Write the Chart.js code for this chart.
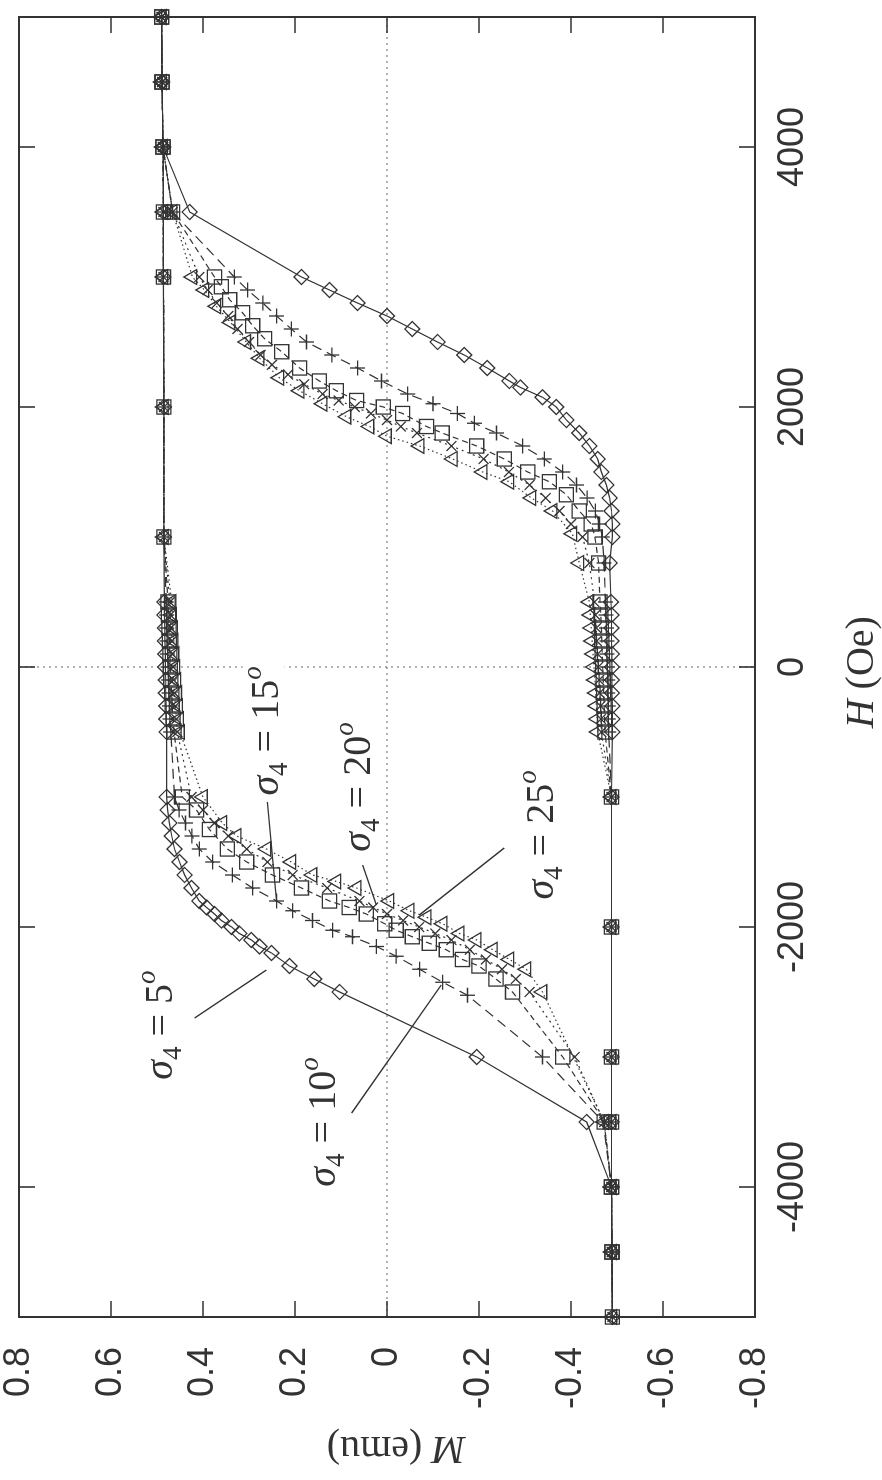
<!DOCTYPE html>
<html><head><meta charset="utf-8">
<script src="https://cdn.jsdelivr.net/npm/chart.js@4.4.0/dist/chart.umd.min.js"></script>
<style>
html,body{margin:0;padding:0;background:#fff;overflow:hidden;width:882px;height:1480px;}
#wrap{position:absolute;left:0;top:0;width:1480px;height:882px;transform-origin:0 0;transform:translate(0px,1480px) rotate(-90deg);}
canvas{display:block;}
</style></head><body>
<div id="wrap"><canvas id="c" width="1480" height="882"></canvas></div>
<script>
// ---------- axis ticks ----------
const hTicks = [-4000, -2000, 0, 2000, 4000];
const hTickLabels = ['-4000', '-2000', '0', '2000', '4000'];
const mTicks = [-0.8, -0.6, -0.4, -0.2, 0, 0.2, 0.4, 0.6, 0.8];
const mTickLabels = ['-0.8', '-0.6', '-0.4', '-0.2', '0', '0.2', '0.4', '0.6', '0.8'];

// ---------- series labels ----------
const seriesNames = ['σ4 = 5°', 'σ4 = 10°', 'σ4 = 15°', 'σ4 = 20°', 'σ4 = 25°'];

// ---------- data: H (Oe) and M (emu), descending branch then ascending branch ----------
const s05_Hd = [5000,4500,4000,3500,3000,2000,1000,500,400,300,200,100,0,-100,-200,-300,-400,-500,
  -1000,-1100,-1200,-1300,-1400,-1500,-1600,-1700,-1800,-1850,-1900,-1950,-2000,-2050,-2100,-2150,-2200,-2300,-2400,-2500,
  -3000,-3500,-4000,-4500,-5000];
const s05_Md = [0.490,0.489,0.487,0.486,0.486,0.485,0.485,0.484,0.484,0.483,0.483,0.482,0.482,0.481,0.481,0.480,0.480,0.479,
  0.479,0.477,0.473,0.468,0.462,0.451,0.440,0.425,0.408,0.392,0.375,0.360,0.338,0.321,0.295,0.277,0.251,0.212,0.158,0.103,
  -0.195,-0.434,-0.488,-0.489,-0.490];
const s05_Ha = [-4500,-4000,-3500,-3000,-2000,-1000,-500,-400,-300,-200,-100,0,100,200,300,400,500,
  800,1000,1100,1200,1300,1400,1500,1600,1700,1800,1900,2000,2075,2150,2200,2300,2400,2500,2600,2700,2800,2900,3000,
  3500,4000,4500,5000];
const s05_Ma = [-0.489,-0.488,-0.488,-0.488,-0.488,-0.488,-0.490,-0.490,-0.490,-0.489,-0.489,-0.489,-0.489,-0.488,-0.488,-0.488,-0.487,
  -0.484,-0.490,-0.490,-0.488,-0.484,-0.477,-0.466,-0.458,-0.440,-0.418,-0.390,-0.368,-0.338,-0.290,-0.266,-0.218,-0.168,-0.110,-0.055,0.000,0.064,0.125,0.186,
  0.429,0.487,0.489,0.490];

const s10_Hd = [5000,4500,4000,3500,3000,2000,1000,500,400,300,200,100,0,-100,-200,-300,-400,-500,
  -1000,-1100,-1200,-1300,-1400,-1500,-1600,-1700,-1800,-1875,-1950,-2025,-2075,-2150,-2225,-2325,-2425,-2525,
  -3000,-3500,-4000,-4500,-5000];
const s10_Md = [0.490,0.489,0.487,0.486,0.486,0.485,0.485,0.480,0.479,0.479,0.478,0.477,0.476,0.475,0.474,0.473,0.472,0.470,
  0.462,0.452,0.438,0.424,0.408,0.379,0.336,0.292,0.240,0.205,0.162,0.118,0.075,0.023,-0.020,-0.071,-0.121,-0.175,
  -0.338,-0.470,-0.488,-0.489,-0.490];
const s10_Ha = [-4500,-4000,-3500,-3000,-2000,-1000,-500,-400,-300,-200,-100,0,100,200,300,400,500,
  800,1000,1100,1200,1300,1400,1500,1600,1700,1800,1875,1950,2025,2100,2200,2300,2400,2500,2600,2700,2800,2900,3000,
  3500,4000,4500,5000];
const s10_Ma = [-0.489,-0.488,-0.488,-0.488,-0.488,-0.488,-0.482,-0.481,-0.481,-0.480,-0.480,-0.479,-0.478,-0.478,-0.477,-0.476,-0.475,
  -0.472,-0.468,-0.462,-0.453,-0.435,-0.412,-0.382,-0.342,-0.295,-0.238,-0.190,-0.153,-0.100,-0.045,0.012,0.064,0.120,0.175,0.208,0.240,0.270,0.303,0.332,
  0.466,0.487,0.489,0.490];

const s15_Hd = [5000,4500,4000,3500,3000,2000,1000,500,400,300,200,100,0,-100,-200,-300,-400,-500,
  -1000,-1100,-1250,-1400,-1500,-1600,-1700,-1800,-1850,-1900,-1975,-2025,-2075,-2125,-2175,-2250,-2300,-2400,-2500,
  -3000,-3500,-4000,-4500,-5000];
const s15_Md = [0.490,0.489,0.487,0.486,0.486,0.485,0.485,0.476,0.475,0.474,0.473,0.472,0.471,0.470,0.468,0.467,0.465,0.463,
  0.445,0.414,0.386,0.347,0.305,0.249,0.186,0.125,0.082,0.045,0.005,-0.020,-0.055,-0.092,-0.129,-0.164,-0.200,-0.237,-0.273,
  -0.382,-0.472,-0.488,-0.489,-0.490];
const s15_Ha = [-4500,-4000,-3500,-3000,-2000,-1000,-500,-400,-300,-200,-100,0,100,200,300,400,500,
  800,1000,1100,1200,1325,1425,1500,1600,1700,1800,1850,1950,2000,2050,2125,2200,2300,2425,2525,2625,2725,2825,2925,3000,
  3500,4000,4500,5000];
const s15_Ma = [-0.489,-0.488,-0.488,-0.488,-0.488,-0.488,-0.474,-0.473,-0.472,-0.471,-0.470,-0.469,-0.468,-0.467,-0.466,-0.465,-0.463,
  -0.460,-0.452,-0.444,-0.418,-0.390,-0.353,-0.306,-0.255,-0.195,-0.120,-0.086,-0.034,0.008,0.066,0.110,0.147,0.190,0.229,0.266,0.292,0.314,0.342,0.360,0.375,
  0.466,0.487,0.489,0.490];

const s20_Hd = [5000,4500,4000,3500,3000,2000,1000,500,400,300,200,100,0,-100,-200,-300,-400,-500,
  -1000,-1100,-1200,-1300,-1400,-1500,-1600,-1700,-1800,-1850,-1900,-1950,-2000,-2050,-2100,-2175,-2250,-2325,-2400,-2500,
  -3000,-3500,-4000,-4500,-5000];
const s20_Md = [0.490,0.489,0.487,0.486,0.486,0.485,0.485,0.472,0.471,0.470,0.468,0.467,0.465,0.464,0.462,0.460,0.458,0.456,
  0.425,0.400,0.375,0.345,0.305,0.260,0.205,0.130,0.060,0.030,0.000,-0.035,-0.070,-0.105,-0.140,-0.180,-0.215,-0.250,-0.280,-0.310,
  -0.408,-0.472,-0.488,-0.489,-0.490];
const s20_Ha = [-4500,-4000,-3500,-3000,-2000,-1000,-500,-400,-300,-200,-100,0,100,200,300,400,500,
  800,1000,1100,1200,1300,1400,1500,1600,1700,1800,1850,1900,1950,2000,2050,2100,2175,2250,2325,2400,2500,2600,2700,2800,2900,3000,
  3500,4000,4500,5000];
const s20_Ma = [-0.489,-0.488,-0.488,-0.488,-0.488,-0.488,-0.466,-0.465,-0.464,-0.462,-0.461,-0.459,-0.458,-0.456,-0.455,-0.453,-0.451,
  -0.440,-0.425,-0.400,-0.375,-0.345,-0.310,-0.265,-0.210,-0.140,-0.065,-0.030,0.000,0.035,0.070,0.105,0.140,0.180,0.215,0.250,0.275,0.300,0.325,0.345,0.370,0.390,0.408,
  0.466,0.487,0.489,0.490];

const s25_Hd = [5000,4500,4000,3500,3000,2000,1000,500,400,300,200,100,0,-100,-200,-300,-400,-500,
  -1000,-1200,-1300,-1400,-1500,-1600,-1650,-1700,-1800,-1875,-1925,-1975,-2050,-2100,-2175,-2250,-2325,-2500,
  -3500,-4000,-4500,-5000];
const s25_Md = [0.490,0.489,0.487,0.486,0.486,0.485,0.485,0.468,0.467,0.465,0.464,0.462,0.460,0.458,0.456,0.454,0.452,0.450,
  0.400,0.358,0.327,0.262,0.208,0.162,0.110,0.066,-0.005,-0.049,-0.086,-0.121,-0.158,-0.195,-0.230,-0.266,-0.303,-0.338,
  -0.472,-0.488,-0.489,-0.490];
const s25_Ha = [-4500,-4000,-3500,-3000,-2000,-1000,-500,-400,-300,-200,-100,0,100,200,300,400,500,
  800,1025,1200,1300,1425,1500,1600,1700,1775,1850,1925,2025,2125,2225,2375,2500,2650,2775,2900,3000,
  3500,4000,4500,5000];
const s25_Ma = [-0.489,-0.488,-0.488,-0.488,-0.488,-0.488,-0.458,-0.457,-0.455,-0.454,-0.452,-0.450,-0.448,-0.446,-0.444,-0.442,-0.440,
  -0.418,-0.403,-0.360,-0.314,-0.266,-0.208,-0.143,-0.071,0.000,0.038,0.088,0.140,0.190,0.234,0.277,0.306,0.340,0.371,0.397,0.423,
  0.466,0.487,0.489,0.490];

// ---------- annotation labels (data coordinates) ----------
const labelDeg = ['5', '10', '15', '20', '25'];
const labelH = [-2754, -3500, -492, -923, -1292];
const labelM = [0.495, 0.142, 0.266, 0.066, -0.332];
const ptrH0 = [-2700, -3431, -1038, -1523, -1392];
const ptrM0 = [0.418, 0.077, 0.260, 0.053, -0.255];
const ptrH1 = [-2331, -2446, -1808, -1831, -1908];
const ptrM1 = [0.262, -0.118, 0.240, 0.023, -0.070];

const INK = '#333333';
const styles = [
  {pt: 'rectRot', r: 7.5, dash: []},
  {pt: 'cross', r: 7.5, dash: [10, 6]},
  {pt: 'rect', r: 10, dash: [6, 4]},
  {pt: 'crossRot', r: 7, dash: [2, 4]},
  {pt: 'triangle', r: 8.5, dash: [1.5, 3]}
];
const seriesH = [s05_Hd.concat(s05_Ha), s10_Hd.concat(s10_Ha), s15_Hd.concat(s15_Ha), s20_Hd.concat(s20_Ha), s25_Hd.concat(s25_Ha)];
const seriesM = [s05_Md.concat(s05_Ma), s10_Md.concat(s10_Ma), s15_Md.concat(s15_Ma), s20_Md.concat(s20_Ma), s25_Md.concat(s25_Ma)];

const datasets = seriesH.map((H, k) => {
  const M = seriesM[k];
  const n = Math.min(H.length, M.length);
  const pts = [];
  for (let i = 0; i < n; i++) pts.push({x: H[i], y: M[i]});
  return {
    label: seriesNames[k],
    data: pts,
    showLine: true,
    borderColor: INK,
    borderWidth: 1.2,
    borderDash: styles[k].dash,
    pointStyle: styles[k].pt,
    pointRadius: styles[k].r,
    pointBorderColor: INK,
    pointBackgroundColor: 'rgba(0,0,0,0)',
    pointBorderWidth: 1.3,
    tension: 0,
    clip: false
  };
});

const SERIF = '"Liberation Serif", "Times New Roman", serif';
const SANS = '"Liberation Sans", Arial, sans-serif';

function drawSigma(ctx, cx, cy, deg) {
  const big = 40, small = 27;
  const parts = [
    {t: 'σ', f: `italic ${big}px ${SERIF}`, dy: 0},
    {t: '4', f: `${small}px ${SERIF}`, dy: 9},
    {t: ' = ' + deg, f: `${big}px ${SERIF}`, dy: 0},
    {t: 'o', f: `italic ${small}px ${SERIF}`, dy: -17}
  ];
  let w = 0;
  parts.forEach(p => { ctx.font = p.f; p.w = ctx.measureText(p.t).width; w += p.w; });
  ctx.fillStyle = '#fff';
  ctx.fillRect(cx - w / 2 - 3, cy - 22, w + 6, 42);
  let x = cx - w / 2;
  const base = cy + 13;
  ctx.fillStyle = INK;
  ctx.textAlign = 'left';
  ctx.textBaseline = 'alphabetic';
  parts.forEach(p => { ctx.font = p.f; ctx.fillText(p.t, x, base + p.dy); x += p.w; });
}

const framePlugin = {
  id: 'frame',
  beforeDatasetsDraw(chart) {
    const {ctx, chartArea: a, scales: {x, y}} = chart;
    ctx.save();
    ctx.strokeStyle = '#666';
    ctx.lineWidth = 1;
    ctx.setLineDash([2, 4]);
    const x0 = x.getPixelForValue(0), y0 = y.getPixelForValue(0);
    ctx.beginPath();
    ctx.moveTo(x0, a.top); ctx.lineTo(x0, a.bottom);
    ctx.moveTo(a.left, y0); ctx.lineTo(a.right, y0);
    ctx.stroke();
    ctx.restore();
  },
  afterDatasetsDraw(chart) {
    const {ctx, chartArea: a, scales: {x, y}} = chart;
    ctx.save();
    ctx.strokeStyle = INK;
    ctx.setLineDash([]);
    ctx.lineWidth = 1.6;
    const TL = 16;
    ctx.beginPath();
    hTicks.forEach(v => {
      const px = x.getPixelForValue(v);
      ctx.moveTo(px, a.top); ctx.lineTo(px, a.top + TL);
      ctx.moveTo(px, a.bottom); ctx.lineTo(px, a.bottom - TL);
    });
    mTicks.forEach(v => {
      const py = y.getPixelForValue(v);
      ctx.moveTo(a.left, py); ctx.lineTo(a.left + TL, py);
      ctx.moveTo(a.right, py); ctx.lineTo(a.right - TL, py);
    });
    ctx.stroke();
    ctx.lineWidth = 2;
    ctx.strokeRect(a.left, a.top, a.right - a.left, a.bottom - a.top);

    // pointer lines
    ctx.lineWidth = 1.4;
    ctx.beginPath();
    for (let i = 0; i < labelDeg.length; i++) {
      ctx.moveTo(x.getPixelForValue(ptrH0[i]), y.getPixelForValue(ptrM0[i]));
      ctx.lineTo(x.getPixelForValue(ptrH1[i]), y.getPixelForValue(ptrM1[i]));
    }
    ctx.stroke();
    for (let i = 0; i < labelDeg.length; i++) {
      drawSigma(ctx, x.getPixelForValue(labelH[i]), y.getPixelForValue(labelM[i]), labelDeg[i]);
    }

    // axis titles
    ctx.fillStyle = INK;
    ctx.textBaseline = 'middle';
    ctx.textAlign = 'left';
    {
      const f1 = `italic 40px ${SERIF}`, f2 = `40px ${SERIF}`;
      ctx.font = f1; const w1 = ctx.measureText('H').width;
      ctx.font = f2; const w2 = ctx.measureText(' (Oe)').width;
      const cx = x.getPixelForValue(-40), cy = 862;
      let sx = cx - (w1 + w2) / 2;
      ctx.font = f1; ctx.fillText('H', sx, cy);
      ctx.font = f2; ctx.fillText(' (Oe)', sx + w1, cy);
    }
    {
      const f1 = `italic 40px ${SERIF}`, f2 = `40px ${SERIF}`;
      ctx.save();
      ctx.translate(32, y.getPixelForValue(-0.02));
      ctx.rotate(-Math.PI / 2);
      ctx.font = f1; const w1 = ctx.measureText('M').width;
      ctx.font = f2; const w2 = ctx.measureText(' (emu)').width;
      let sx = -(w1 + w2) / 2;
      ctx.font = f1; ctx.fillText('M', sx, 0);
      ctx.font = f2; ctx.fillText(' (emu)', sx + w1, 0);
      ctx.restore();
    }
    ctx.restore();
  }
};

new Chart(document.getElementById('c').getContext('2d'), {
  type: 'scatter',
  data: {datasets},
  options: {
    responsive: false,
    animation: false,
    events: [],
    layout: {padding: {left: 0, right: 17, top: 19, bottom: 0}},
    plugins: {legend: {display: false}, tooltip: {enabled: false}},
    scales: {
      x: {
        type: 'linear', min: -5000, max: 5000,
        afterBuildTicks: s => { s.ticks = hTicks.map(v => ({value: v})); },
        afterFit: s => { s.height = 127; s.paddingLeft = 0; s.paddingRight = 0; },
        grid: {display: false, drawTicks: false},
        border: {display: false},
        ticks: {
          font: {family: SANS, size: 36}, color: INK, padding: 16,
          maxRotation: 0, autoSkip: false,
          callback: (v, i) => hTickLabels[i]
        }
      },
      y: {
        type: 'linear', min: -0.8, max: 0.8,
        afterBuildTicks: s => { s.ticks = mTicks.map(v => ({value: v})); },
        afterFit: s => { s.width = 163; s.paddingTop = 0; s.paddingBottom = 0; },
        grid: {display: false, drawTicks: false},
        border: {display: false},
        ticks: {
          font: {family: SANS, size: 36}, color: INK, padding: 30,
          autoSkip: false,
          callback: (v, i) => mTickLabels[i]
        }
      }
    }
  },
  plugins: [framePlugin]
});
</script>
</body></html>
